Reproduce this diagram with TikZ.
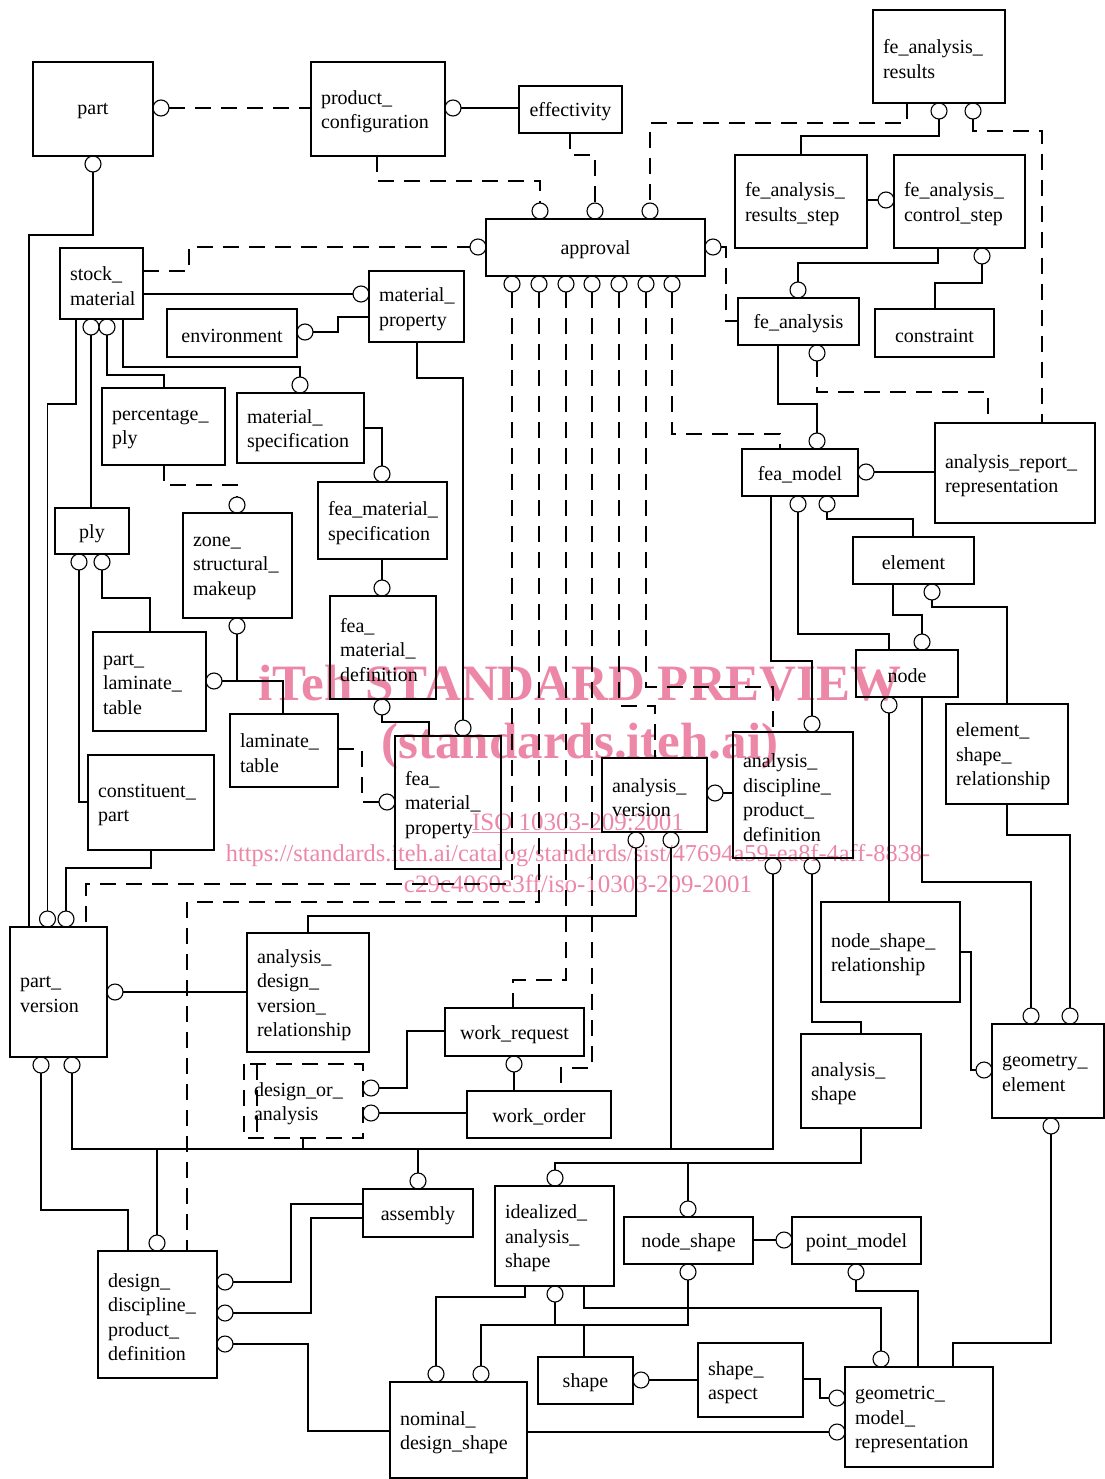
\documentclass[tikz,border=0pt]{standalone}
\usepackage{fontspec}
\setmainfont{Liberation Serif}
\hyphenpenalty=10000
\exhyphenpenalty=10000
\definecolor{wmpink}{RGB}{237,135,167}
\tikzset{
  ent/.style={draw, line width=1.1pt, anchor=north west, inner sep=0pt, outer sep=0pt},
  lbl/.style={inner sep=0pt, outer sep=0pt},
  oc/.style={circle, draw, line width=1.1pt, minimum size=16pt, inner sep=0pt, outer sep=0pt},
  ln/.style={line width=1.1pt},
  tk/.style={line width=2.2pt},
  dsh/.style={line width=1.1pt, dash pattern=on 16pt off 10pt},
  wm/.style={anchor=base, text=wmpink, inner sep=0pt}
}
\newcommand\CBox[6]{\pgfmathsetmacro\bxw{#4-#2}\pgfmathsetmacro\bxh{#5-#3}%
  \pgfmathsetmacro\bcx{(#2+#4)/2}\pgfmathsetmacro\bcy{(#3+#5)/2+2.5}%
  \node[ent, minimum width=\bxw pt, minimum height=\bxh pt] (#1) at (#2,#3) {};
  \node[lbl, align=center] (#1t) at (\bcx,\bcy) {#6};}
\newcommand\EBox[6]{\pgfmathsetmacro\bxw{#4-#2}\pgfmathsetmacro\bxh{#5-#3}\pgfmathsetmacro\bxt{#4-#2-20}%
  \pgfmathsetmacro\bcx{#2+10}\pgfmathsetmacro\bcy{(#3+#5)/2+2.5}%
  \node[ent, minimum width=\bxw pt, minimum height=\bxh pt] (#1) at (#2,#3) {};
  \node[lbl, anchor=west, text width=\bxt pt, align=left] (#1t) at (\bcx,\bcy) {#6};}
\begin{document}
\begin{tikzpicture}[x=1pt,y=-1pt,font=\fontsize{20}{24.5}\selectfont]
\useasboundingbox (0,0) rectangle (1104,1479);
% watermark
\node[wm, font=\bfseries\fontsize{51}{51}\selectfont] (wmA) at (580,700) {iTeh STANDARD PREVIEW};
\node[wm, font=\bfseries\fontsize{51}{51}\selectfont] (wmB) at (580,758) {(standards.iteh.ai)};
\node[wm, font=\fontsize{25}{25}\selectfont] (wmC) at (578,830) {\underline{ISO 10303-209:2001}};
\node[wm, font=\fontsize{24.3}{25}\selectfont] (wmD) at (578,861) {https://standards.iteh.ai/catalog/standards/sist/47694a59-ea8f-4aff-8838-};
\node[wm, font=\fontsize{25}{25}\selectfont] (wmE) at (578,892) {c29c4060e3ff/iso-10303-209-2001};

% boxes
\CBox{part}{33}{62}{153}{156}{part}
\EBox{pc}{311}{62}{445}{156}{product\_\\configuration}
\CBox{eff}{519}{86}{622}{133}{effectivity}
\EBox{far}{873}{10}{1005}{103}{fe\_analysis\_\\results}
\CBox{appr}{486}{219}{705}{276}{approval}
\EBox{fars}{735}{155}{867}{248}{fe\_analysis\_\\results\_step}
\EBox{facs}{894}{155}{1025}{248}{fe\_analysis\_\\control\_step}
\EBox{sm}{60}{248}{143}{319}{stock\_\\material}
\EBox{mp}{369}{271}{464}{342}{material\_\\property}
\CBox{env}{167}{309}{297}{357}{environment}
\CBox{fa}{738}{298}{859}{345}{fe\_analysis}
\CBox{cons}{875}{309}{994}{357}{constraint}
\EBox{pp}{102}{388}{225}{465}{percentage\_\\ply}
\EBox{ms}{237}{393}{364}{463}{material\_\\specification}
\EBox{arr}{935}{423}{1095}{523}{analysis\_report\_\\representation}
\CBox{fm}{742}{449}{858}{496}{fea\_model}
\EBox{fms}{318}{482}{447}{559}{fea\_material\_\\specification}
\CBox{ply}{55}{508}{129}{554}{ply}
\EBox{zsm}{183}{513}{292}{618}{zone\_\\structural\_\\makeup}
\CBox{elem}{853}{537}{974}{584}{element}
\EBox{fmd}{330}{596}{436}{699}{fea\_\\material\_\\definition}
\EBox{plt}{93}{632}{206}{731}{part\_\\laminate\_\\table}
\CBox{node}{856}{650}{958}{697}{node}
\EBox{esr}{946}{704}{1068}{804}{element\_\\shape\_\\relationship}
\EBox{lt}{230}{714}{338}{787}{laminate\_\\table}
\EBox{fmp}{395}{736}{501}{869}{fea\_\\material\_\\property}
\EBox{adpd}{733}{732}{853}{858}{analysis\_\\discipline\_\\product\_\\definition}
\EBox{cp}{88}{755}{214}{850}{constituent\_\\part}
\EBox{av}{602}{758}{707}{832}{analysis\_\\version}
\EBox{nsr}{821}{902}{960}{1002}{node\_shape\_\\relationship}
\EBox{pv}{10}{927}{107}{1057}{part\_\\version}
\EBox{advr}{247}{933}{369}{1052}{analysis\_\\design\_\\version\_\\relationship}
\CBox{wr}{445}{1008}{584}{1056}{work\_request}
\node[lbl, anchor=west, text width=99pt, align=left] (doat) at (254,1103.5) {design\_or\_\\analysis};
\draw[dsh] (244,1064) coordinate (doaNW) rectangle (363,1138) coordinate (doaSE);
\draw[dsh] (257,1064) -- (257,1138);
\EBox{as}{801}{1034}{921}{1128}{analysis\_\\shape}
\EBox{ge}{992}{1024}{1104}{1118}{geometry\_\\element}
\CBox{wo}{467}{1091}{611}{1138}{work\_order}
\CBox{asm}{363}{1189}{473}{1237}{assembly}
\EBox{ias}{495}{1186}{614}{1286}{idealized\_\\analysis\_\\shape}
\CBox{ns}{624}{1217}{753}{1264}{node\_shape}
\CBox{pm}{792}{1217}{921}{1264}{point\_model}
\EBox{ddpd}{98}{1251}{217}{1378}{design\_\\discipline\_\\product\_\\definition}
\CBox{shp}{538}{1357}{633}{1404}{shape}
\EBox{sa}{698}{1343}{803}{1417}{shape\_\\aspect}
\EBox{gmr}{845}{1367}{993}{1467}{geometric\_\\model\_\\representation}
\EBox{nds}{390}{1382}{527}{1478}{nominal\_\\design\_shape}

% circles
\node[oc] (cPartR) at (161,108) {};
\node[oc] (cPartB) at (93,164) {};
\node[oc] (cPcR) at (453,108) {};
\node[oc] (cApT1) at (540,211) {};
\node[oc] (cApT2) at (595,211) {};
\node[oc] (cApT3) at (650,211) {};
\node[oc] (cApL) at (478,247) {};
\node[oc] (cApR) at (713,247) {};
\foreach \i/\x in {1/512,2/539,3/566,4/592,5/619,6/646,7/672}
  \node[oc] (cApB\i) at (\x,284) {};
\node[oc] (cFarA) at (939,111) {};
\node[oc] (cFarB) at (973,111) {};
\node[oc] (cFacsL) at (886,200) {};
\node[oc] (cFacsB) at (982,256) {};
\node[oc] (cFaT) at (798,290) {};
\node[oc] (cFaB) at (817,353) {};
\node[oc] (cMpL) at (361,294) {};
\node[oc] (cEnvR) at (305,332) {};
\node[oc] (cSmB1) at (91,327) {};
\node[oc] (cSmB2) at (107,327) {};
\node[oc] (cMsT) at (300,385) {};
\node[oc] (cFmT) at (817,441) {};
\node[oc] (cFmR) at (866,472) {};
\node[oc] (cFmsT) at (382,474) {};
\node[oc] (cZsmT) at (237,505) {};
\node[oc] (cFmB1) at (798,504) {};
\node[oc] (cFmB2) at (827,504) {};
\node[oc] (cPlyB1) at (79,562) {};
\node[oc] (cPlyB2) at (102,562) {};
\node[oc] (cFmdT) at (382,588) {};
\node[oc] (cElB) at (932,592) {};
\node[oc] (cZsmB) at (237,626) {};
\node[oc] (cNodeT) at (922,642) {};
\node[oc] (cPltR) at (214,681) {};
\node[oc] (cFmdB) at (382,707) {};
\node[oc] (cNodeB) at (889,705) {};
\node[oc] (cAdpdT) at (812,724) {};
\node[oc] (cFmpT) at (463,728) {};
\node[oc] (cAvR) at (715,793) {};
\node[oc] (cFmpL) at (387,802) {};
\node[oc] (cAvB1) at (636,840) {};
\node[oc] (cAvB2) at (671,840) {};
\node[oc] (cAdpdB1) at (773,866) {};
\node[oc] (cAdpdB2) at (812,866) {};
\node[oc] (cPvT1) at (47.5,919) {};
\node[oc] (cPvT2) at (66,919) {};
\node[oc] (cPvR) at (115,992) {};
\node[oc] (cGeT1) at (1031,1016) {};
\node[oc] (cGeT2) at (1070,1016) {};
\node[oc] (cPvB1) at (41,1065) {};
\node[oc] (cPvB2) at (72,1065) {};
\node[oc] (cGeL) at (984,1070) {};
\node[oc] (cWrB) at (514,1064) {};
\node[oc] (cDoaA) at (371,1088) {};
\node[oc] (cDoaB) at (371,1113) {};
\node[oc] (cGeB) at (1051,1126) {};
\node[oc] (cIasT) at (555,1178) {};
\node[oc] (cAsmT) at (418,1181) {};
\node[oc] (cNsT) at (688,1209) {};
\node[oc] (cPmL) at (784,1240) {};
\node[oc] (cDdpdT) at (157,1243) {};
\node[oc] (cNsB) at (688,1272) {};
\node[oc] (cPmB) at (856,1272) {};
\node[oc] (cDdpdA) at (225,1282) {};
\node[oc] (cDdpdB) at (225,1313) {};
\node[oc] (cDdpdC) at (225,1344) {};
\node[oc] (cIasB) at (555,1294) {};
\node[oc] (cGmrT) at (881,1359) {};
\node[oc] (cNdsA) at (436,1374) {};
\node[oc] (cNdsB) at (481,1374) {};
\node[oc] (cShapeR) at (641,1380) {};
\node[oc] (cGmrL1) at (837,1398) {};
\node[oc] (cGmrL2) at (837,1432) {};

% connectors - top
\draw[dsh] (cPartR.east) -- (311,108);
\draw[ln] (cPcR.east) -- (519,108);
\draw[dsh] (377,156) -- (377,181) -| (cApT1.north);
\draw[dsh] (570,133) -- (570,155) -| (cApT2.north);
\draw[dsh] (907,103) -- (907,123) -| (cApT3.north);
\draw[ln] (cFarA.south) |- (801,136) -- (801,155);
\draw[ln] (867,200) -- (cFacsL.west);
\draw[dsh] (cFarB.south) |- (1042,131) -- (1042,423);
\draw[ln] (938,248) -- (938,263) -| (cFaT.north);
\draw[ln] (cFacsB.south) |- (935,283) -- (935,309);
\draw[dsh] (cFaB.south) |- (988,392) -- (988,423);
\draw[ln] (778,345) -- (778,404) -| (cFmT.north);
\draw[ln] (cFmR.east) -- (935,472);
\draw[dsh] (cApR.east) -| (726,321) -- (738,321);
\draw[dsh] (143,271) -- (189,271) |- (cApL.west);
\draw[ln] (143,294) -- (cMpL.west);
\draw[ln] (cEnvR.east) -| (338,317) -- (369,317);
\draw[ln] (76,319) -- (76,404) -| (cPvT1.north);
\draw[ln] (cPartB.south) |- (29,235) -- (29,927);
\draw[ln] (cSmB1.south) -- (91,508);
\draw[ln] (cSmB2.south) |- (164,375) -- (164,388);
\draw[ln] (123,319) -- (123,367) -| (cMsT.north);
\draw[dsh] (164,465) -- (164,485) -| (cZsmT.north);
\draw[tk] (364,428) -| (cFmsT.north);
\draw[tk] (417,342) -- (417,378) -| (cFmpT.north);
\draw[ln] (382,559) -- (cFmdT.north);
\draw[ln] (cFmdB.south) |- (429,722) -- (429,736);
\draw[dsh] (338,749) -- (362,749) |- (cFmpL.west);
\draw[tk] (cPlyB1.south) |- (88,802);
\draw[ln] (cPlyB2.south) |- (150,598) -- (150,632);
\draw[tk] (cPltR.east) -| (283,714);
\draw[tk] (cZsmB.south) -- (237,681);
\draw[ln] (151,850) -- (151,868) -| (cPvT2.north);
% fea_model area
\draw[ln] (771,496) -- (771,661) -| (cAdpdT.north);
\draw[ln] (cFmB1.south) |- (889,634) -- (889,650);
\draw[ln] (cFmB2.south) |- (913,519) -- (913,537);
\draw[ln] (893,584) -- (893,615) -| (cNodeT.north);
\draw[ln] (cElB.south) |- (1007,607) -- (1007,704);
\draw[ln] (cNodeB.south) -- (889,902);
\draw[ln] (922,697) -- (922,882) -| (cGeT1.north);
\draw[ln] (1007,804) -- (1007,835) -| (cGeT2.north);
\draw[ln] (960,952) -| (971,1070) -- (cGeL.west);
\draw[ln] (cAvR.east) -- (733,793);
\draw[ln] (cAvB1.south) |- (308,916) -- (308,933);
\draw[ln] (cAvB2.south) -- (671,1149);
\draw[ln] (cPvB2.south) |- (773,1149) -- (cAdpdB1.south);
\draw[ln] (157,1149) -- (cDdpdT.north);
\draw[ln] (303,1138) -- (303,1149);
\draw[ln] (418,1149) -- (cAsmT.north);
\draw[ln] (cAdpdB2.south) |- (861,1022) -- (861,1034);
\draw[ln] (cPvR.east) -- (247,992);
\draw[ln] (cPvB1.south) |- (128,1210) -- (128,1251);
\draw[ln] (cWrB.south) -- (514,1091);
\draw[ln] (cDoaA.east) -| (407,1031) -- (445,1031);
\draw[ln] (cDoaB.east) -- (467,1113);
% approval dashed
\draw[dsh] (cApB1.south) -- (512,884) -| (86,927);
\draw[dsh] (cApB2.south) -- (539,902) -| (187,1251);
\draw[dsh] (cApB3.south) -- (566,980) -| (513,1008);
\draw[dsh] (cApB4.south) -- (592,1068) -| (561,1091);
\draw[dsh] (cApB5.south) -- (619,706) -| (655,758);
\draw[dsh] (cApB6.south) -- (646,687) -| (773,732);
\draw[dsh] (cApB7.south) -- (672,434) -| (780,449);
% bottom
\draw[tk] (cIasT.north) |- (861,1163) -- (861,1128);
\draw[tk] (688,1163) -- (cNsT.north);
\draw[tk] (cNsB.south) |- (481,1325) -- (cNdsB.north);
\draw[tk] (cIasB.south) -- (555,1325);
\draw[tk] (584,1325) -- (584,1357);
\draw[ln] (525,1286) -- (525,1297) -| (cNdsA.north);
\draw[ln] (584,1286) -- (584,1308) -| (cGmrT.north);
\draw[ln] (cShapeR.east) -- (698,1380);
\draw[ln] (803,1379) -| (820,1398) -- (cGmrL1.west);
\draw[ln] (527,1432) -- (cGmrL2.west);
\draw[tk] (cPmB.south) |- (918,1291) -- (918,1367);
\draw[ln] (953,1367) -- (953,1343) -| (cGeB.south);
\draw[ln] (753,1240) -- (cPmL.west);
\draw[ln] (cDdpdA.east) -| (291,1204) -- (363,1204);
\draw[ln] (cDdpdB.east) -| (311,1218) -- (363,1218);
\draw[ln] (cDdpdC.east) -| (308,1431) -- (390,1431);
\end{tikzpicture}
\end{document}
